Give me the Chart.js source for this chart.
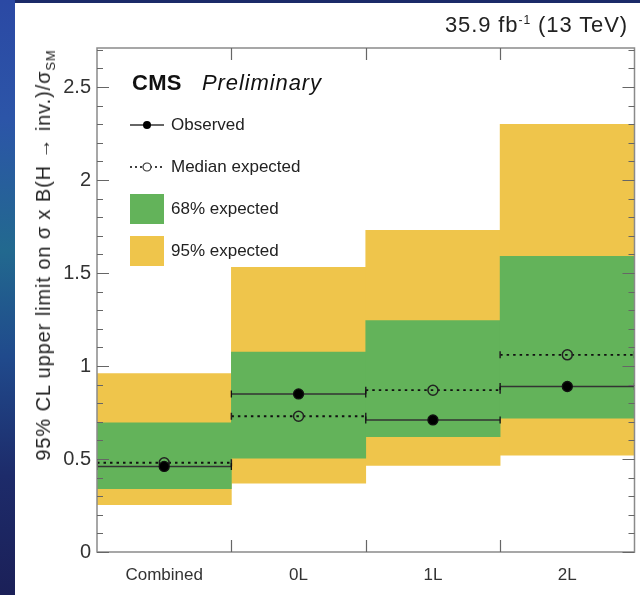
<!DOCTYPE html>
<html>
<head>
<meta charset="utf-8">
<script src="https://cdn.jsdelivr.net/npm/chart.js@4.4.1/dist/chart.umd.min.js"></script>
<style>
html,body{margin:0;padding:0;}
body{width:640px;height:595px;position:relative;overflow:hidden;background:#1b2a68;font-family:'Liberation Sans',Arial,Helvetica,sans-serif;}
#leftstrip{position:absolute;left:0;top:0;width:15px;height:595px;background:linear-gradient(to bottom,#2b49a4 0%,#2c55a8 20%,#22698f 42%,#204a8c 60%,#1d2b6a 80%,#1b2058 100%);}
#panel{position:absolute;left:15px;top:3px;width:625px;height:592px;background:#fff;}
canvas{position:absolute;left:0;top:0;}
.txt{position:absolute;white-space:nowrap;line-height:1;}
#lumi{right:12px;top:14px;font-size:22px;letter-spacing:0.9px;color:#222;}
#lumi sup{font-size:55%;line-height:0;vertical-align:0.7em;}
#cms{left:132px;top:72px;font-size:22px;color:#111;}
#cms b{font-weight:bold;letter-spacing:0.3px;}
#cms i{position:absolute;left:70px;top:0;letter-spacing:0.9px;}
#ytitle{left:43px;top:255px;transform:translate(-50%,-50%) rotate(-90deg);font-size:20px;letter-spacing:0.9px;color:#222;}
#ytitle sub{font-size:65%;line-height:0;vertical-align:-0.35em;}
.leg{position:absolute;left:130px;height:30px;display:flex;align-items:center;font-size:17px;color:#222;white-space:nowrap;}
.leg svg{margin-right:7px;flex:none;}
</style>
</head>
<body>
<div id="leftstrip"></div>
<div id="panel"></div>
<canvas id="c" width="640" height="595"></canvas>
<div class="txt" id="lumi">35.9 fb<sup>-1</sup> (13 TeV)</div>
<div class="txt" id="cms"><b>CMS</b><i>Preliminary</i></div>
<div class="txt" id="ytitle">95% CL upper limit on σ x B(H → inv.)/σ<sub>SM</sub></div>
<div class="leg" style="top:110px"><svg width="34" height="12"><line x1="0" y1="6" x2="34" y2="6" stroke="#333" stroke-width="1.5"/><circle cx="17" cy="6" r="4" fill="#000"/></svg>Observed</div>
<div class="leg" style="top:152px"><svg width="34" height="12"><line x1="0" y1="6" x2="34" y2="6" stroke="#000" stroke-width="1.6" stroke-dasharray="2,3"/><circle cx="17" cy="6" r="4" fill="#fff" stroke="#333" stroke-width="1.2"/></svg>Median expected</div>
<div class="leg" style="top:194px"><svg width="34" height="30"><rect x="0" y="0" width="34" height="30" fill="#63b35a"/></svg>68% expected</div>
<div class="leg" style="top:236px"><svg width="34" height="30"><rect x="0" y="0" width="34" height="30" fill="#efc54b"/></svg>95% expected</div>
<script>
// ---- data ----
const categories = ['Combined', '0L', '1L', '2L'];
const observed   = [0.46, 0.85, 0.71, 0.89];
const expected   = [0.48, 0.73, 0.87, 1.06];
const band68Low  = [0.34, 0.505, 0.62, 0.72];
const band68High = [0.695, 1.075, 1.245, 1.59];
const band95Low  = [0.255, 0.37, 0.465, 0.52];
const band95High = [0.96, 1.53, 1.73, 2.30];
const yTickLabels = [0, 0.5, 1, 1.5, 2, 2.5];
const yMax = 2.71;

const GREEN = '#63b35a';
const YELLOW = '#efc54b';

function segPoints(vals){
  const pts = [];
  vals.forEach((v, i) => {
    pts.push({x: i, y: v}, {x: i + 0.5, y: v}, {x: i + 1, y: v}, {x: i + 1, y: null});
  });
  return pts;
}
const ptStyle = c => (c.dataIndex % 4 === 1 ? 'circle' : 'line');
const ptRadius = c => { const m = c.dataIndex % 4; return m === 1 ? 5 : (m === 3 ? 0 : 3.5); };

const framePlugin = {
  id: 'frame',
  afterDatasetsDraw(chart){
    const {ctx, chartArea: a, scales} = chart;
    ctx.save();
    ctx.strokeStyle = '#8a8a8a';
    ctx.lineWidth = 1.5;
    ctx.strokeRect(a.left, a.top, a.right - a.left, a.bottom - a.top);
    ctx.strokeStyle = '#666';
    ctx.lineWidth = 1.2;
    ctx.beginPath();
    for (let k = 0; k <= Math.floor(yMax * 10); k++){
      const y = Math.round(scales.y.getPixelForValue(k / 10)) + 0.5;
      const len = (k % 5 === 0) ? 12 : 6;
      ctx.moveTo(a.left, y); ctx.lineTo(a.left + len, y);
      ctx.moveTo(a.right, y); ctx.lineTo(a.right - len, y);
    }
    for (let i = 1; i < categories.length; i++){
      const x = Math.round(scales.xl.getPixelForValue(i)) + 0.5;
      ctx.moveTo(x, a.bottom); ctx.lineTo(x, a.bottom - 12);
      ctx.moveTo(x, a.top); ctx.lineTo(x, a.top + 12);
    }
    ctx.stroke();
    ctx.restore();
  }
};

Chart.defaults.font.family = "'Liberation Sans', Arial, Helvetica, sans-serif";

new Chart(document.getElementById('c'), {
  type: 'bar',
  data: {
    labels: categories,
    datasets: [
      {
        type: 'line', label: 'Observed', xAxisID: 'xl', yAxisID: 'y', order: 0,
        data: segPoints(observed), spanGaps: false,
        borderColor: '#333', borderWidth: 1.5,
        pointStyle: ptStyle, pointRadius: ptRadius, rotation: 90,
        pointBackgroundColor: '#000', pointBorderColor: '#111', pointBorderWidth: 1.3
      },
      {
        type: 'line', label: 'Median expected', xAxisID: 'xl', yAxisID: 'y', order: 0,
        data: segPoints(expected), spanGaps: false,
        borderColor: '#111', borderWidth: 1.8, borderDash: [2.5, 4],
        pointStyle: ptStyle, pointRadius: ptRadius, rotation: 90,
        pointBackgroundColor: 'rgba(0,0,0,0)', pointBorderColor: '#222', pointBorderWidth: 1.5
      },
      {
        label: '68% expected', xAxisID: 'x', yAxisID: 'y', order: 1,
        data: band68Low.map((lo, i) => [lo, band68High[i]]),
        backgroundColor: GREEN, borderWidth: 0,
        barPercentage: 1, categoryPercentage: 1, grouped: false
      },
      {
        label: '95% expected', xAxisID: 'x', yAxisID: 'y', order: 2,
        data: band95Low.map((lo, i) => [lo, band95High[i]]),
        backgroundColor: YELLOW, borderWidth: 0,
        barPercentage: 1, categoryPercentage: 1, grouped: false
      }
    ]
  },
  options: {
    responsive: false,
    devicePixelRatio: 1,
    animation: false,
    events: [],
    layout: {padding: {top: 48, right: 4, bottom: 0, left: 0}},
    plugins: {legend: {display: false}, tooltip: {enabled: false}},
    scales: {
      x: {
        type: 'category', position: 'bottom', offset: true,
        grid: {display: false, drawTicks: false, tickLength: 0}, border: {display: false},
        ticks: {font: {size: 17}, color: '#333', padding: 13, maxRotation: 0},
        afterFit(s){ s.height = 43; }
      },
      xl: {
        type: 'linear', position: 'bottom', display: false, offset: false,
        min: 0, max: categories.length
      },
      y: {
        type: 'linear', position: 'left', min: 0, max: yMax,
        grid: {display: false, drawTicks: false, tickLength: 0}, border: {display: false},
        afterBuildTicks(s){ s.ticks = yTickLabels.map(v => ({value: v})); },
        ticks: {
          font: {size: 20}, color: '#333', padding: 6,
          callback: v => String(Math.round(v * 10) / 10)
        },
        afterFit(s){ s.width = 97; }
      }
    }
  },
  plugins: [framePlugin]
});
</script>
</body>
</html>
